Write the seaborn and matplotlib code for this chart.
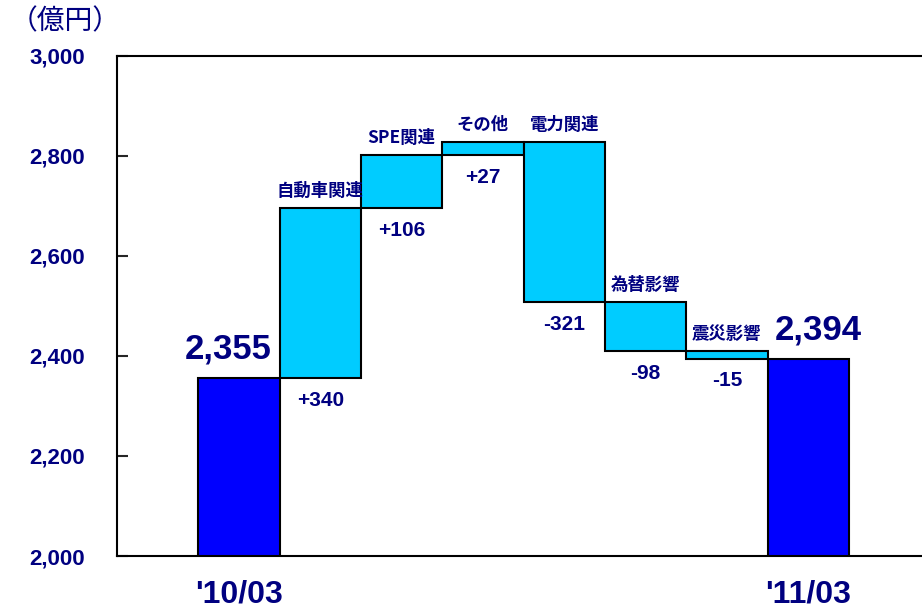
import matplotlib
matplotlib.use('Agg')
import matplotlib.pyplot as plt
import seaborn as sns
import pandas as pd

# categories in drawing order
order = ['10/03', '自動車関連', 'SPE関連', 'その他', '電力関連', '為替影響', '震災影響', '11/03']
tick_labels = ["'10/03", "'11/03"]

start_total = 2355
end_total = 2394
deltas = [340, 106, 27, -321, -98, -15]
delta_names = order[1:-1]

# running totals for the floating bars
levels = [start_total]
for d in deltas:
    levels.append(levels[-1] + d)

df_tot = pd.DataFrame({'name': [order[0], order[-1]], 'value': [start_total, end_total]})
df_delta = pd.DataFrame({
    'name': delta_names,
    'bottom': [min(a, b) for a, b in zip(levels[:-1], levels[1:])],
    'height': [abs(d) for d in deltas],
    'top': [max(a, b) for a, b in zip(levels[:-1], levels[1:])],
})

navy = '#000080'
sns.set_theme(style='white')
plt.rcParams['font.family'] = ['Liberation Sans', 'Noto Sans CJK JP', 'DejaVu Sans']

fig = plt.figure(figsize=(9.22, 6.11), dpi=100)
ax = fig.add_axes([0.127, 0.09, 0.873, 0.8185])

sns.barplot(data=df_tot, x='name', y='value', order=order, color='#0000FF',
            saturation=1, edgecolor='black', linewidth=1.5, width=1.0,
            errorbar=None, ax=ax)
sns.barplot(data=df_delta, x='name', y='height', order=order, color='#00CCFF',
            saturation=1, edgecolor='black', linewidth=1.5, width=1.0,
            errorbar=None, bottom=df_delta['bottom'].values, ax=ax)

ax.set_ylim(2000, 3000)
ax.set_xlim(-1.5, 8.4)
ax.set_yticks(range(2000, 3001, 200))
ax.set_yticklabels([f'{v:,}' for v in range(2000, 3001, 200)])
ax.set_xticks([0, len(order) - 1])
ax.set_xticklabels(tick_labels)
ax.set_xlabel('')
ax.set_ylabel('')

ax.tick_params(axis='y', direction='in', length=8, width=1.5, left=True, pad=23,
               labelsize=16, labelcolor=navy)
for t in ax.get_yticklabels():
    t.set_fontweight('bold')
ax.tick_params(axis='x', length=0, pad=17, labelsize=23, labelcolor=navy)
for t in ax.get_xticklabels():
    t.set_fontweight('bold')

for side in ['top', 'left', 'bottom']:
    ax.spines[side].set_visible(True)
    ax.spines[side].set_color('black')
    ax.spines[side].set_linewidth(1.5)
ax.spines['right'].set_visible(False)

# labels on the floating bars
for i, row in df_delta.iterrows():
    x = i + 1
    ax.annotate(row['name'], (x, row['top']), xytext=(0, 6), textcoords='offset points',
                ha='center', va='bottom', fontsize=12.5, fontweight='bold', color=navy,
                family=['Noto Sans CJK JP', 'DejaVu Sans'])
    ax.annotate(f'{deltas[i]:+d}', (x, row['bottom']), xytext=(0, -9), textcoords='offset points',
                ha='center', va='top', fontsize=15, fontweight='bold', color=navy)

# totals
ax.annotate(f'{start_total:,}', (0, start_total), xytext=(-8, 9), textcoords='offset points',
            ha='center', va='bottom', fontsize=25, fontweight='bold', color=navy)
ax.annotate(f'{end_total:,}', (len(order) - 1, end_total), xytext=(7, 9), textcoords='offset points',
            ha='center', va='bottom', fontsize=25, fontweight='bold', color=navy)

fig.text(0.01, 0.965, '（億円）', fontsize=20, color=navy, ha='left', va='center',
         family=['Noto Sans CJK JP', 'DejaVu Sans'])

fig.savefig('out.png', dpi=100)
